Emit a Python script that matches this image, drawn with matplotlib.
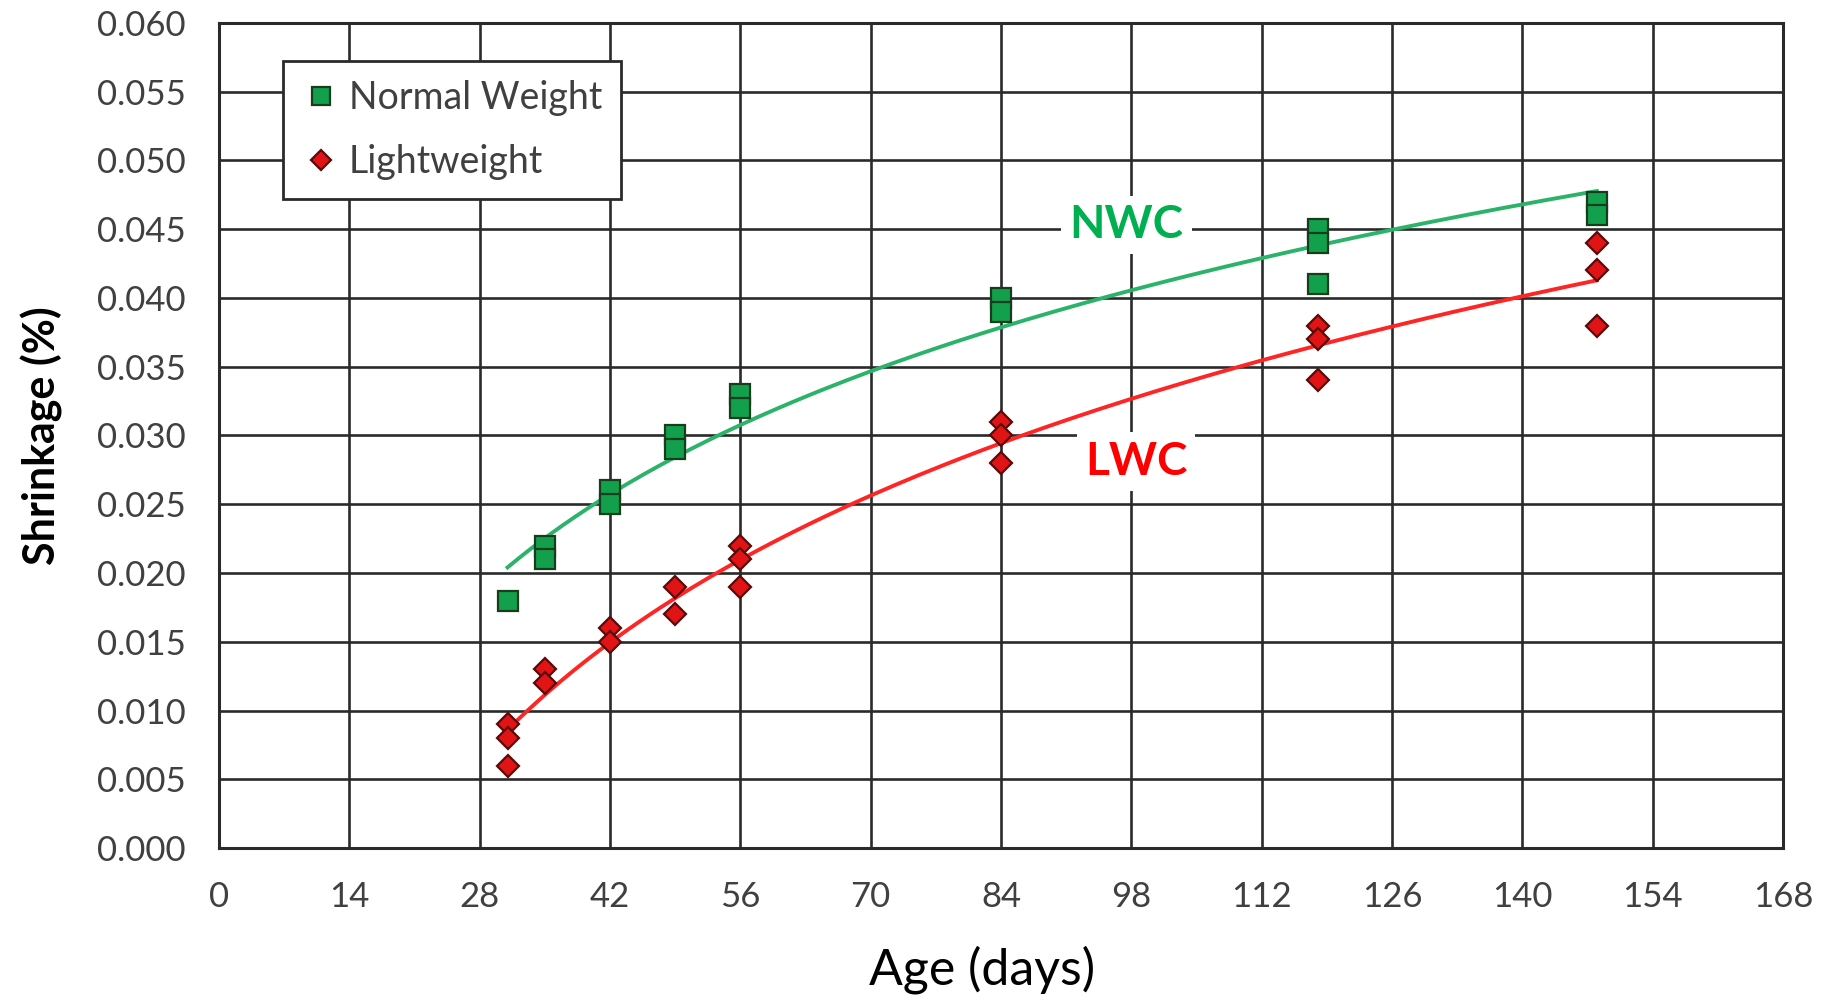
import numpy as np
import matplotlib
matplotlib.use('Agg')
import matplotlib.pyplot as plt
from matplotlib.ticker import FormatStrFormatter

plt.rcParams['font.family'] = ['Lato', 'DejaVu Sans']

# normal weight concrete readings (age in days, shrinkage in %)
nw_days = [31, 35, 35, 42, 42, 49, 49, 56, 56, 84, 84, 118, 118, 118, 148, 148]
nw_vals = [0.018, 0.022, 0.021, 0.026, 0.025, 0.030, 0.029, 0.033, 0.032,
           0.040, 0.039, 0.045, 0.044, 0.041, 0.047, 0.046]

# lightweight concrete readings
lw_days = [31, 31, 31, 35, 35, 42, 42, 49, 49, 56, 56, 56,
           84, 84, 84, 118, 118, 118, 148, 148, 148]
lw_vals = [0.009, 0.008, 0.006, 0.013, 0.012, 0.016, 0.015, 0.019, 0.017,
           0.022, 0.021, 0.019, 0.031, 0.030, 0.028, 0.038, 0.037, 0.034,
           0.044, 0.042, 0.038]

x_ticks = np.arange(0, 169, 14)
y_ticks = np.arange(0, 0.0601, 0.005)

fig = plt.figure(figsize=(18.35, 10), dpi=100)
ax = fig.add_axes([0.1193, 0.152, 0.8524, 0.825])


def log_trend(days, vals):
    # excel style logarithmic trendline
    b, a = np.polyfit(np.log(days), vals, 1)
    xs = np.linspace(min(days), max(days), 200)
    return xs, a + b * np.log(xs)


xs, ys = log_trend(nw_days, nw_vals)
ax.plot(xs, ys, color='#2cb36a', lw=2.8, zorder=3)
xs, ys = log_trend(lw_days, lw_vals)
ax.plot(xs, ys, color='#ff2525', lw=2.8, zorder=3)

ax.plot(nw_days, nw_vals, 's', ms=14, mfc='#12a04c', mec='#163d1c', mew=1.6,
        ls='none', label='Normal Weight', zorder=4)
ax.plot(lw_days, lw_vals, 'D', ms=11, mfc='#e01414', mec='#5a0a0a', mew=1.6,
        ls='none', label='Lightweight', zorder=4)

ax.text(97.5, 0.0453, 'NWC', color='#00b050', fontsize=33, fontweight='bold',
        ha='center', va='center', zorder=5,
        bbox=dict(facecolor='white', edgecolor='none', pad=6))
ax.text(98.5, 0.0281, 'LWC', color='#ff0000', fontsize=33, fontweight='bold',
        ha='center', va='center', zorder=5,
        bbox=dict(facecolor='white', edgecolor='none', pad=6))

ax.set_xlim(0, 168)
ax.set_ylim(0, 0.060)
ax.set_xticks(x_ticks)
ax.set_yticks(y_ticks)
ax.yaxis.set_major_formatter(FormatStrFormatter('%.3f'))
ax.grid(True, color='#2a2a2a', lw=1.9, zorder=1)
ax.set_axisbelow(True)
for s in ax.spines.values():
    s.set_color('#2a2a2a')
    s.set_linewidth(2.2)
ax.tick_params(length=0, labelsize=25, labelcolor='#404040')
ax.tick_params(axis='x', pad=24)
ax.tick_params(axis='y', pad=24)

ax.set_ylabel('Shrinkage (%)', fontsize=31, fontweight='bold', labelpad=24)
ax.set_xlabel('Age (days)', fontsize=36)
ax.xaxis.set_label_coords(0.488, -0.118)

leg = ax.legend(loc='upper left', bbox_to_anchor=(0.041, 0.954), borderaxespad=0,
                fontsize=27, frameon=True, fancybox=False, framealpha=1,
                edgecolor='#2a2a2a', handletextpad=0.25, labelspacing=0.75,
                borderpad=0.5, handlelength=1.0, markerscale=0.9)
leg.get_frame().set_linewidth(2)
for t in leg.get_texts():
    t.set_color('#404040')

fig.savefig('out.png', dpi=100)
